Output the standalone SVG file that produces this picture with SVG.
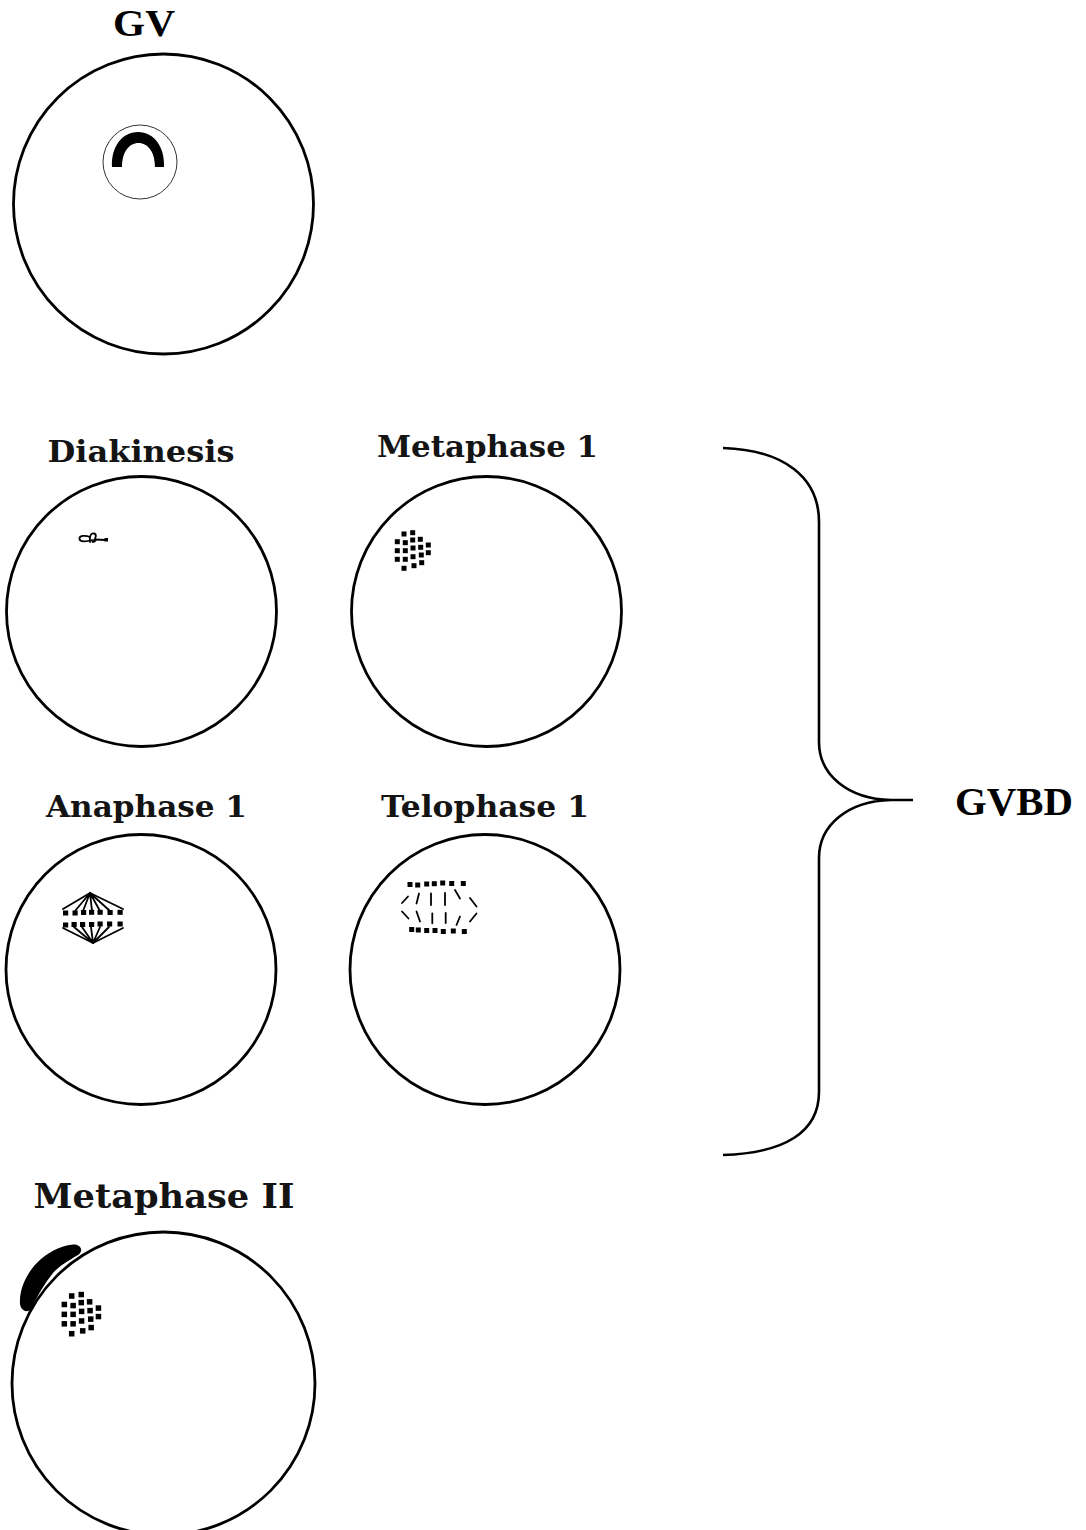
<svg xmlns="http://www.w3.org/2000/svg" xmlns:xlink="http://www.w3.org/1999/xlink" width="1086" height="1530" viewBox="0 0 1086 1530">
  <style>
    .cell { fill: #ffffff; stroke: #000000; stroke-width: 2.8; }
    .title { font-family: "DejaVu Serif", "Liberation Serif", serif; font-weight: bold; fill: #141414; text-anchor: middle; }
    .times { font-family: "Liberation Serif", "Times New Roman", serif; font-weight: bold; fill: #000000; text-anchor: middle; }
    .chrom { fill: #000000; }
    .fibre { stroke: #000000; stroke-width: 1.8; fill: none; stroke-linecap: round; }
    .brace { stroke: #000000; stroke-width: 2.6; fill: none; }
  </style>
  <defs>
    <!-- metaphase plate: chromosome squares around the origin -->
    <g id="plate" class="chrom">
      <rect x="-2.5" y="-2.5" width="5" height="5"/>
      <rect x="6.2" y="-3.8" width="5" height="5"/>
      <rect x="-9.2" y="5.2" width="5" height="5"/>
      <rect x="-1.2" y="6.2" width="5" height="5"/>
      <rect x="6.2" y="3.5" width="5" height="5"/>
      <rect x="13.8" y="2.8" width="5" height="5"/>
      <rect x="21.8" y="8.5" width="5" height="5"/>
      <rect x="-9.2" y="14.2" width="5" height="5"/>
      <rect x="-1.2" y="14.2" width="5" height="5"/>
      <rect x="6.5" y="11.5" width="5" height="5"/>
      <rect x="14.2" y="10.8" width="5" height="5"/>
      <rect x="21.8" y="16.2" width="5" height="5"/>
      <rect x="-9.2" y="22.8" width="5" height="5"/>
      <rect x="-1.2" y="22.8" width="5" height="5"/>
      <rect x="6.5" y="20.2" width="5" height="5"/>
      <rect x="14.8" y="18.5" width="5" height="5"/>
      <rect x="-2.5" y="31.8" width="5" height="5"/>
      <rect x="7.5" y="29.2" width="5" height="5"/>
      <rect x="15.2" y="26.2" width="5" height="5"/>
    </g>
  </defs>

  <!-- GV stage -->
  <g id="gv">
    <text class="times" x="144" y="36" font-size="38" textLength="62" lengthAdjust="spacingAndGlyphs">GV</text>
    <circle class="cell" cx="163.5" cy="204" r="150"/>
    <circle cx="140" cy="162" r="37" fill="none" stroke="#333333" stroke-width="1"/>
    <!-- horseshoe-shaped chromatin inside the nucleus -->
    <path class="chrom" d="M112,167 C111,147 122,132 138,132 C154,132 165,147 164,167 L155,167 C155,152 148,143 138.5,143 C129,143 122,152 122,167 Z"/>
  </g>

  <!-- Diakinesis -->
  <g id="diakinesis">
    <text class="title" x="141" y="462" font-size="30" textLength="187" lengthAdjust="spacingAndGlyphs">Diakinesis</text>
    <circle class="cell" cx="141.5" cy="611.5" r="135"/>
    <path class="fibre" stroke-width="1.5" d="M92,540 C86,542 80,542 79.5,539 C79,535.5 85,535 90,537"/>
    <path class="fibre" stroke-width="2.2" d="M90,542 C89,536 91,533 94,533.5 C97,534 96,539 93,541 C91,542 94,543 96,540"/>
    <path class="fibre" stroke-width="1.5" d="M96,539.5 L105,540"/>
    <rect class="chrom" x="104.5" y="538" width="3.5" height="3.5"/>
  </g>

  <!-- Metaphase 1 -->
  <g id="metaphase-1">
    <text class="title" x="487.5" y="457" font-size="30" textLength="221" lengthAdjust="spacingAndGlyphs">Metaphase 1</text>
    <circle class="cell" cx="486.5" cy="611.5" r="135"/>
    <use xlink:href="#plate" transform="translate(404,534)"/>
  </g>

  <!-- Anaphase 1 -->
  <g id="anaphase-1">
    <text class="title" x="146.5" y="817" font-size="30" textLength="201" lengthAdjust="spacingAndGlyphs">Anaphase 1</text>
    <circle class="cell" cx="141" cy="969.5" r="135"/>
    <g class="fibre">
      <path d="M90,893 L63,909 M90,893 L123,909"/>
      <path d="M90,893 L75,911 M90,893 L83,911 M90,893 L92,911 M90,893 L100,911 M90,893 L110,911"/>
      <path d="M93,943 L63,928 M93,943 L123,928"/>
      <path d="M93,943 L74,927 M93,943 L82,927 M93,943 L91,927 M93,943 L100,927 M93,943 L109,927"/>
    </g>
    <g class="chrom">
      <rect x="63" y="910.5" width="5.2" height="5"/>
      <rect x="72.5" y="910.5" width="5.2" height="5"/>
      <rect x="81" y="910" width="5.2" height="5"/>
      <rect x="89" y="909.8" width="5.2" height="5"/>
      <rect x="97.5" y="909.8" width="5.2" height="5"/>
      <rect x="107.5" y="910" width="5.2" height="5"/>
      <rect x="117.5" y="909.8" width="5.2" height="5"/>
      <rect x="63" y="922.5" width="5.2" height="5"/>
      <rect x="71.5" y="922" width="5.2" height="5"/>
      <rect x="80" y="922" width="5.2" height="5"/>
      <rect x="89" y="922" width="5.2" height="5"/>
      <rect x="97.5" y="921.5" width="5.2" height="5"/>
      <rect x="107" y="921.5" width="5.2" height="5"/>
      <rect x="117.5" y="921.5" width="5.2" height="5"/>
    </g>
  </g>

  <!-- Telophase 1 -->
  <g id="telophase-1">
    <text class="title" x="485" y="817" font-size="30" textLength="208" lengthAdjust="spacingAndGlyphs">Telophase 1</text>
    <circle class="cell" cx="485" cy="969.5" r="135"/>
    <g class="chrom">
      <rect x="407.5" y="882" width="5" height="5"/>
      <rect x="415.2" y="882.5" width="5" height="5"/>
      <rect x="424.2" y="881.5" width="5" height="5"/>
      <rect x="431.8" y="881.2" width="5" height="5"/>
      <rect x="440.2" y="880.5" width="5" height="5"/>
      <rect x="449.2" y="881" width="5" height="5"/>
      <rect x="460.8" y="881" width="5" height="5"/>
      <rect x="409.2" y="927" width="5" height="5"/>
      <rect x="415.8" y="927.5" width="5" height="5"/>
      <rect x="424.2" y="928" width="5" height="5"/>
      <rect x="432.5" y="928" width="5" height="5"/>
      <rect x="440.8" y="929" width="5" height="5"/>
      <rect x="450.8" y="928.5" width="5" height="5"/>
      <rect x="461.8" y="929" width="5" height="5"/>
    </g>
    <g class="fibre" stroke-width="2.4">
      <path d="M402,903 L408,896.5 M416.5,903.5 L419,893.5 M431,893.5 L431,905 M445,893 L445,905 M455,890 L460,898.5 M470,898 L476.5,906.5"/>
      <path d="M402,911.5 L408.5,918.5 M416.5,911.5 L420,921.5 M432.3,913.3 L432.3,923.3 M445.7,913 L445.7,923 M460,916.5 L456.5,925 M476.5,913.5 L470,921.5"/>
    </g>
  </g>

  <!-- Metaphase II -->
  <g id="metaphase-2">
    <text class="title" x="164" y="1208" font-size="34" textLength="261" lengthAdjust="spacingAndGlyphs">Metaphase II</text>
    <circle class="cell" cx="163.5" cy="1383.5" r="151.5"/>
    <!-- polar body lying on the cell edge -->
    <path class="chrom" d="M20,1304 C19,1288 28,1270 41,1259 C52,1250 64,1245 73,1244.5 C81,1244 84,1251 78,1255 C68,1261 59,1266 53,1273 C44,1284 37,1296 32,1308 C28,1314 21,1311 20,1304 Z"/>
    <use xlink:href="#plate" transform="translate(71.7,1296) scale(1.1)"/>
  </g>

  <!-- brace grouping the GVBD stages -->
  <g id="connectors">
    <path class="brace" d="M723,448 C785,450 819,478 819,522 L819,742 C819,775 848,799 891,800 L913,800 M891,800 C848,801 819,825 819,858 L819,1092 C819,1132 785,1153 723,1155"/>
  </g>

  <g id="gvbd">
    <text class="times" x="1014" y="815" font-size="41" textLength="118" lengthAdjust="spacingAndGlyphs">GVBD</text>
  </g>
</svg>
